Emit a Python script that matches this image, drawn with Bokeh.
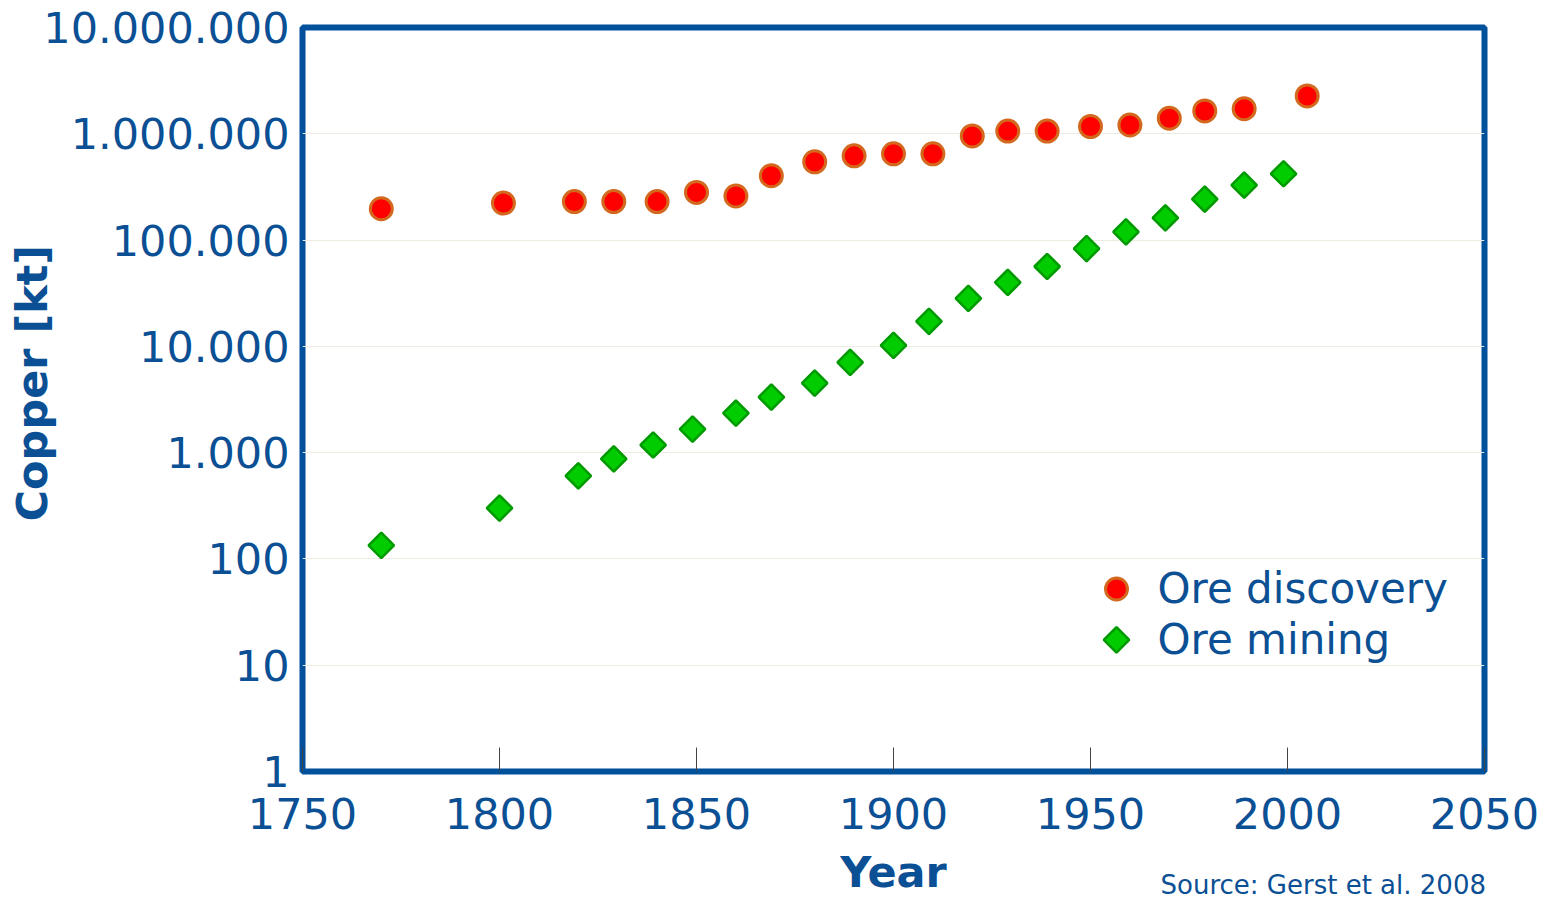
import numpy as np
from bokeh.plotting import figure
from bokeh.models import (FixedTicker, CustomJSTickFormatter, Label, Range1d, LinearScale,
                          Title)
from bokeh.embed import file_html
from bokeh.resources import INLINE

# ---- data ----
discovery_years = [1770, 1801, 1819, 1829, 1840, 1850, 1860, 1869, 1880, 1890, 1900,
                   1910, 1920, 1929, 1939, 1950, 1960, 1970, 1979, 1989, 2005]
discovery_kt = [197000, 223000, 230000, 230000, 230000, 281000, 260000, 403000, 545000,
                620000, 648000, 648000, 955000, 1060000, 1060000, 1170000, 1210000,
                1400000, 1640000, 1720000, 2270000]

mining_years = [1770, 1800, 1820, 1829, 1839, 1849, 1860, 1869, 1880, 1889, 1900,
                1909, 1919, 1929, 1939, 1949, 1959, 1969, 1979, 1989, 1999]
mining_kt = [134, 301, 604, 873, 1180, 1667, 2355, 3326, 4500, 7080, 10230,
             17180, 28250, 39900, 56400, 83200, 119400, 161400, 243300, 329600, 420600]

x_ticks = [1750, 1800, 1850, 1900, 1950, 2000, 2050]
y_ticks = [1, 10, 100, 1000, 10000, 100000, 1000000, 10000000]

series_names = ["Ore discovery", "Ore mining"]
x_title = "Year"
y_title = "Copper [kt]"
source_text = "Source: Gerst et al. 2008"

# ---- styles ----
BLUE = "#0b4f94"
FRAME = "#00509b"
FONT = "DejaVu Sans"
FRAME_W, FRAME_H = 1182, 746

p = figure(width=1540, height=899, output_backend="svg", toolbar_location=None,
           y_axis_type="log",
           x_range=Range1d(x_ticks[0], x_ticks[-1]),
           y_range=Range1d(y_ticks[0], y_ticks[-1]),
           min_border_left=302, min_border_right=56,
           min_border_top=27, min_border_bottom=126)

p.background_fill_color = "white"
p.border_fill_color = "white"
p.outline_line_color = FRAME
p.outline_line_width = 6

disc_style = dict(marker="circle", size=22, fill_color="#ff0000",
                  line_color="#d2691e", line_width=3)
mine_style = dict(marker="square", angle=np.pi / 4, size=18, fill_color="#00cc00",
                  line_color="#009a00", line_width=2.5)

p.scatter(discovery_years, discovery_kt, **disc_style)
p.scatter(mining_years, mining_kt, **mine_style)

# axes
p.xaxis.ticker = FixedTicker(ticks=x_ticks)
p.yaxis.ticker = FixedTicker(ticks=y_ticks)
p.yaxis.formatter = CustomJSTickFormatter(
    code=r"return Math.round(tick).toString().replace(/\B(?=(\d{3})+(?!\d))/g, '.');")

for ax in (p.xaxis, p.yaxis):
    ax.axis_line_color = None
    ax.minor_tick_line_color = None
    ax.major_label_text_font = FONT
    ax.major_label_text_font_size = "43px"
    ax.major_label_text_color = BLUE
    ax.axis_label_text_font = FONT
    ax.axis_label_text_font_size = "43px"
    ax.axis_label_text_font_style = "bold"
    ax.axis_label_text_color = BLUE

p.xaxis.axis_label = x_title

p.xaxis.major_tick_in = 24
p.xaxis.major_tick_out = 0
p.xaxis.major_tick_line_color = "#444444"
p.xaxis.major_tick_line_width = 1
p.xaxis.major_label_standoff = 26
p.xaxis.axis_label_standoff = 15

p.yaxis.major_tick_line_color = None
p.yaxis.major_tick_in = 0
p.yaxis.major_tick_out = 0
p.yaxis.major_label_standoff = 13

p.xgrid.grid_line_color = None
p.ygrid.grid_line_color = "#eeebe2"
p.ygrid.grid_line_width = 1

# y title as a side-panel title (sits a bit above the frame centre, as in the reference)
p.add_layout(Title(text=y_title, align="left", offset=250, vertical_align="bottom",
                   standoff=-32, text_font=FONT, text_font_size="43px",
                   text_font_style="bold", text_color=BLUE), "left")

# source note below the plot, at the right
p.add_layout(Title(text=source_text, align="left", offset=858, vertical_align="top",
                   standoff=-60, text_font=FONT, text_font_size="26px",
                   text_font_style="normal", text_color=BLUE), "below")

# ---- legend (keys drawn in frame pixel space so the diamond stays rotated) ----
p.extra_x_ranges["legend_x"] = Range1d(0, FRAME_W)
p.extra_y_ranges["legend_y"] = Range1d(0, FRAME_H)
p.extra_x_scales["legend_x"] = LinearScale()
p.extra_y_scales["legend_y"] = LinearScale()
legend_key_x = 814
legend_text_x = 855
legend_rows = [183, 132]

p.scatter([legend_key_x], [legend_rows[0]], x_range_name="legend_x",
          y_range_name="legend_y", **disc_style)
p.scatter([legend_key_x], [legend_rows[1]], x_range_name="legend_x",
          y_range_name="legend_y", **mine_style)
for name, row in zip(series_names, legend_rows):
    p.add_layout(Label(x=legend_text_x, y=row, x_units="screen", y_units="screen",
                       text=name, text_align="left", text_baseline="middle",
                       text_font=FONT, text_font_size="42px", text_color=BLUE))

open("out.html", "w").write(file_html(p, INLINE))
